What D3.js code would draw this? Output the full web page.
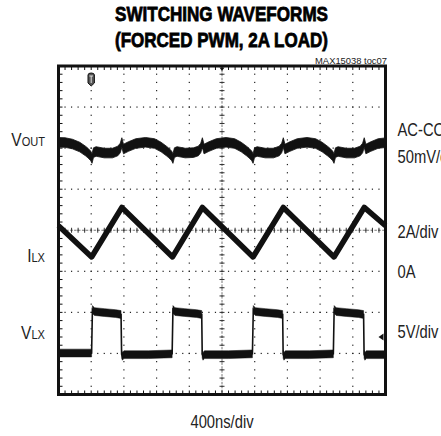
<!DOCTYPE html>
<html><head><meta charset="utf-8">
<script src="https://cdn.jsdelivr.net/npm/d3@7"></script>
<style>
html,body{margin:0;padding:0;background:#fff;}
svg{display:block;}
</style></head><body>
<svg id="chart" width="441" height="436"></svg>
<script>
// ---------------- DATA ----------------
const titleLines = ["SWITCHING WAVEFORMS", "(FORCED PWM, 2A LOAD)"];
const figureId = "MAX15038 toc07";
const timeLabel = "400ns/div";
const timePerDiv = 400;          // ns per division
const nDivX = 10, nDivY = 8, nSub = 5;

// channel settings: units per division and zero-level offset (divisions from bottom)
const channelPerDiv  = [50, 2, 5];      // VOUT mV/div, ILX A/div, VLX V/div
const channelZeroDiv = [6, 3, 1];

// VOUT (AC-coupled) [time ns, mV]
const voutPoints = [[0,7.0],[80,6.8],[170,5.0],[260,1.3],[330,-3.5],[360,-6.0],[395,-9.6],[410,-12.7],[428,-5.5],[460,-4.1],[560,-6.0],[660,-6.0],[725,-3.5],[755,0.1],[775,6.8],[795,-1.1],[855,1.9],[945,5.6],[1065,7.1],[1175,5.6],[1255,1.3],[1320,-3.5],[1350,-6.0],[1385,-9.6],[1400,-12.7],[1418,-5.5],[1450,-4.1],[1550,-6.0],[1650,-5.5],[1710,-3.5],[1740,0.1],[1760,6.8],[1780,-1.1],[1840,1.9],[1930,5.6],[2050,7.1],[2155,5.6],[2235,1.3],[2300,-3.5],[2330,-6.0],[2365,-9.6],[2380,-12.7],[2398,-5.5],[2430,-4.1],[2530,-6.0],[2630,-6.0],[2700,-3.5],[2730,0.1],[2750,6.8],[2770,-1.1],[2830,1.9],[2920,5.6],[3040,7.1],[3145,5.6],[3225,1.3],[3290,-3.5],[3320,-6.0],[3355,-9.6],[3370,-12.7],[3388,-5.5],[3420,-4.1],[3520,-6.0],[3620,-6.0],[3690,-3.5],[3720,0.1],[3740,6.8],[3760,-1.1],[3820,1.9],[3910,5.6],[4000,6.6]];

// ILX inductor current [time ns, A]
const ilPoints = [[0,2.22],[405,0.70],[775,3.11],[1395,0.70],[1760,3.11],[2380,0.70],[2750,3.11],[3370,0.70],[3740,3.11],[4000,2.22]];

// VLX switching node [time ns, V]
const vlxPoints = [[0,0.05],[405,0.05],[415,5.35],[440,5.1],[560,4.98],[700,4.85],[765,4.74],[772,-0.1],[782,-0.35],[800,-0.15],[1100,-0.15],[1390,-0.05],[1400,5.35],[1425,5.1],[1545,4.98],[1690,4.85],[1752,4.74],[1758,-0.1],[1768,-0.35],[1785,-0.15],[2080,-0.15],[2372,-0.05],[2383,5.35],[2408,5.1],[2530,4.98],[2680,4.85],[2742,4.74],[2748,-0.1],[2758,-0.35],[2775,-0.15],[3070,-0.15],[3362,-0.05],[3372,5.35],[3397,5.1],[3520,4.98],[3670,4.85],[3732,4.74],[3738,-0.1],[3748,-0.35],[3765,-0.15],[4000,-0.15]];

// labels: [main, subscript, channel, value at baseline]
const leftLabels  = [["V","OUT",0,2.6],["I","LX",1,0.45],["V","LX",2,1.75]];
// right labels: [text, channel, value at baseline]
const rightLabels = [["AC-COUPLED",0,14.7],["50mV/div",0,-18.1],["2A/div",1,1.62],["0A",1,-0.33],["5V/div",2,1.88]];
const triggerTime = 400;         // ns (trigger marker)
const vlxMarkerValue = 2.0;      // V (channel marker on right edge)

// ---------------- DRAWING ----------------
const svg = d3.select("#chart");
const frame = {x0: 58.5, x1: 385.5, y0: 66, y1: 394.5};
const x = d3.scaleLinear().domain([0, nDivX * timePerDiv]).range([frame.x0, frame.x1]);
const yDiv = d3.scaleLinear().domain([0, nDivY]).range([frame.y1, frame.y0]);
const chY = i => v => yDiv(channelZeroDiv[i] + v / channelPerDiv[i]);
const xSub = d => x(d * timePerDiv / nSub);

const sans = "'Liberation Sans',Arial,Helvetica,sans-serif";
const ink = "#111";
const narrowText = (px, py, anchor) => svg.append("text")
  .attr("transform", `translate(${px},${py}) scale(0.82,1)`)
  .attr("text-anchor", anchor).attr("font-family", sans).attr("fill", "#222");

// grid dots
const grid = svg.append("g");
const vDots = [];
d3.range(1, nDivX).forEach(i => d3.range(1, nDivY * nSub).forEach(j => vDots.push([x(i * timePerDiv), yDiv(j / nSub)])));
const hDots = [];
d3.range(1, nDivY).forEach(j => d3.range(1, nDivX * nSub).forEach(i => hDots.push([xSub(i), yDiv(j)])));
grid.selectAll("rect.dot").data(vDots.concat(hDots)).join("rect")
  .attr("class","dot").attr("x", d => d[0] - 0.6).attr("y", d => d[1] - 0.6)
  .attr("width", 1.2).attr("height", 1.2).attr("fill", "#222");

// center cross graticule with ticks
const cx = x(nDivX / 2 * timePerDiv), cy = yDiv(nDivY / 2);
grid.append("line").attr("x1", frame.x0).attr("x2", frame.x1).attr("y1", cy).attr("y2", cy)
  .attr("stroke", "#777").attr("stroke-width", 1).attr("stroke-dasharray", "2.5,1.4");
grid.append("line").attr("x1", cx).attr("x2", cx).attr("y1", frame.y0).attr("y2", frame.y1)
  .attr("stroke", "#777").attr("stroke-width", 1).attr("stroke-dasharray", "2.5,1.4");
grid.selectAll("line.ctx").data(d3.range(1, nDivX * nSub)).join("line").attr("class","ctx")
  .attr("x1", d => xSub(d)).attr("x2", d => xSub(d)).attr("y1", cy - 2.5).attr("y2", cy + 2.5)
  .attr("stroke", "#333").attr("stroke-width", 1);
grid.selectAll("line.cty").data(d3.range(1, nDivY * nSub)).join("line").attr("class","cty")
  .attr("y1", d => yDiv(d / nSub)).attr("y2", d => yDiv(d / nSub)).attr("x1", cx - 2.5).attr("x2", cx + 2.5)
  .attr("stroke", "#333").attr("stroke-width", 1);

// edge ticks
grid.selectAll("line.lt").data(d3.range(1, nDivY * nSub)).join("line").attr("class","lt")
  .attr("y1", d => yDiv(d / nSub)).attr("y2", d => yDiv(d / nSub)).attr("x1", frame.x0).attr("x2", frame.x0 + 4)
  .attr("stroke", ink).attr("stroke-width", 1);
grid.selectAll("line.tt").data(d3.range(1, nDivX * nSub)).join("line").attr("class","tt")
  .attr("x1", d => xSub(d)).attr("x2", d => xSub(d)).attr("y1", frame.y0).attr("y2", frame.y0 + 4)
  .attr("stroke", ink).attr("stroke-width", 1);
grid.selectAll("line.bt").data(d3.range(1, nDivX * nSub)).join("line").attr("class","bt")
  .attr("x1", d => xSub(d)).attr("x2", d => xSub(d)).attr("y1", frame.y1).attr("y2", frame.y1 - 4)
  .attr("stroke", ink).attr("stroke-width", 1);

// waveforms
const wave = svg.append("g");
const yV = chY(0), yI = chY(1), yL = chY(2);
const chYs = [yV, yI, yL];
// VOUT noisy band
wave.append("path").datum(voutPoints)
  .attr("d", d3.area().x(d => x(d[0])).y0(d => yV(d[1]) - 4.8).y1(d => yV(d[1]) + 4.8))
  .attr("fill", ink).attr("stroke", ink).attr("stroke-width", 0.8);
// inductor current
wave.append("path").datum(ilPoints)
  .attr("d", d3.line().x(d => x(d[0])).y(d => yI(d[1])))
  .attr("fill", "none").attr("stroke", ink).attr("stroke-width", 5.5)
  .attr("stroke-linejoin", "round");
// VLX: thin edges, thick noisy levels
wave.append("path").datum(vlxPoints)
  .attr("d", d3.line().x(d => x(d[0])).y(d => yL(d[1])))
  .attr("fill", "none").attr("stroke", ink).attr("stroke-width", 1.6);
const runs = [];
let cur = [vlxPoints[0]];
for (let k = 1; k < vlxPoints.length; k++) {
  if (Math.abs(vlxPoints[k][1] - vlxPoints[k - 1][1]) < 1.5) cur.push(vlxPoints[k]);
  else { runs.push(cur); cur = [vlxPoints[k]]; }
}
runs.push(cur);
wave.selectAll("path.run").data(runs.filter(r => r.length > 1)).join("path").attr("class","run")
  .attr("d", d3.area().x(d => x(d[0])).y0(d => yL(d[1]) - 3.9).y1(d => yL(d[1]) + 3.9))
  .attr("fill", ink).attr("stroke", ink).attr("stroke-width", 0.5);

// frame
svg.append("rect").attr("x", frame.x0).attr("y", frame.y0)
  .attr("width", frame.x1 - frame.x0).attr("height", frame.y1 - frame.y0)
  .attr("fill", "none").attr("stroke", ink).attr("stroke-width", 3);

// markers
const tx = x(triggerTime);
svg.append("path")
  .attr("d", `M${tx-3.2},${frame.y0+9} Q${tx-3.2},${frame.y0+7} ${tx},${frame.y0+7} Q${tx+3.2},${frame.y0+7} ${tx+3.2},${frame.y0+9} L${tx+3.2},${frame.y0+17} L${tx},${frame.y0+20} L${tx-3.2},${frame.y0+17} Z`)
  .attr("fill", "#555").attr("stroke", ink).attr("stroke-width", 1);
svg.append("path").attr("d", `M${tx-1.8},${frame.y0+10} H${tx+1.8} M${tx},${frame.y0+10} V${frame.y0+17}`)
  .attr("stroke", "#ddd").attr("stroke-width", 1);
svg.append("path").attr("d", `M${cx-2.5},${frame.y0+1.5} L${cx+2.5},${frame.y0+1.5} L${cx},${frame.y0+5} Z`).attr("fill", ink);
const my = yL(vlxMarkerValue);
svg.append("path").attr("d", `M${frame.x1-7},${my} L${frame.x1-2},${my-3.5} L${frame.x1-2},${my+3.5} Z`).attr("fill", ink);

// titles
svg.selectAll("text.title").data(titleLines).join("text").attr("class","title")
  .attr("x", 221.5).attr("y", (d, i) => 21.3 + i * 25.5)
  .attr("text-anchor", "middle").attr("font-family", sans).attr("font-weight", "bold")
  .attr("font-size", 20.5).attr("textLength", 213).attr("lengthAdjust", "spacingAndGlyphs")
  .attr("fill", "#000").attr("stroke", "#000").attr("stroke-width", 0.8)
  .text(d => d);
svg.append("text").attr("x", 387).attr("y", 63.5).attr("text-anchor", "end")
  .attr("font-family", sans).attr("font-size", 9.4).attr("fill", "#222")
  .text(figureId);

// left labels
leftLabels.forEach(lab => {
  const t = narrowText(45, chYs[lab[2]](lab[3]), "end");
  t.append("tspan").attr("font-size", 19).text(lab[0]);
  t.append("tspan").attr("font-size", 13.5).text(lab[1]);
});
// right labels
rightLabels.forEach(d => {
  narrowText(397.5, chYs[d[1]](d[2]), "start").attr("font-size", 18).text(d[0]);
});
narrowText(cx, 428, "middle").attr("font-size", 18).text(timeLabel);
</script>
</body></html>
